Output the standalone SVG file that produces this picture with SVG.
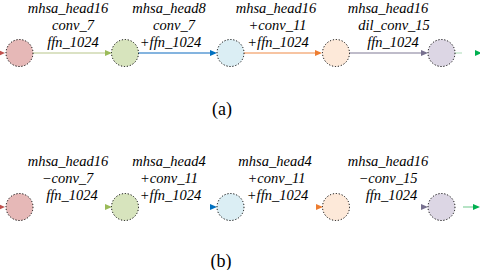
<svg xmlns="http://www.w3.org/2000/svg" width="480" height="270" viewBox="0 0 480 270">
<style>
.nd{stroke:#000000;stroke-width:1;stroke-dasharray:1.2 1.8}
.ln{fill:none;stroke-width:1.3}
</style>
<rect x="0" y="0" width="480" height="270" fill="#ffffff"/>
<g id="connectors">
  <polygon points="-2,50 5,53 -2,56" fill="#c0504d"/>
  <line class="ln" x1="33" y1="53" x2="106" y2="53" stroke="#cfd8b0"/>
  <polygon points="105,50 112,53 105,56" fill="#9bbb59"/>
  <line class="ln" x1="138" y1="53" x2="212" y2="53" stroke="#5b9bd5"/>
  <polygon points="210,50 217,53 210,56" fill="#0070c0"/>
  <line class="ln" x1="244" y1="53" x2="317" y2="53" stroke="#f4b183"/>
  <polygon points="315,50 322,53 315,56" fill="#ed7d31"/>
  <line class="ln" x1="349" y1="53" x2="423" y2="53" stroke="#aaa6b8"/>
  <polygon points="421,50 428,53 421,56" fill="#77708f"/>
  <line class="ln" x1="455" y1="53" x2="462" y2="53" stroke="#bfe3c8"/>
  <polygon points="475,50 482,53 475,56" fill="#00b050"/>
  <polygon points="-2,204 5,207 -2,210" fill="#c0504d"/>
  <polygon points="105,204 112,207 105,210" fill="#9bbb59"/>
  <polygon points="210,204 217,207 210,210" fill="#0070c0"/>
  <polygon points="316,204 323,207 316,210" fill="#ed7d31"/>
  <line class="ln" x1="421" y1="207" x2="424" y2="207" stroke="#aaa6b8"/>
  <polygon points="421,204 428,207 421,210" fill="#77708f"/>
  <line class="ln" x1="463" y1="207" x2="474" y2="207" stroke="#8fd4a6"/>
  <polygon points="473,204 480,207 473,210" fill="#00b050"/>
</g>
<g id="a-n1"><circle class="nd" cx="19.5" cy="53" r="13.5" fill="#e6b8b7"/></g>
<g id="a-n2"><circle class="nd" cx="125" cy="53" r="13.5" fill="#d7e4bd"/></g>
<g id="a-n3"><circle class="nd" cx="230.5" cy="53" r="13.5" fill="#dbeef4"/></g>
<g id="a-n4"><circle class="nd" cx="336" cy="53" r="13.5" fill="#fde9d9"/></g>
<g id="a-n5"><circle class="nd" cx="441.5" cy="53" r="13.5" fill="#dcd6e4"/></g>
<g id="b-n1"><circle class="nd" cx="19.5" cy="207" r="13.5" fill="#e6b8b7"/></g>
<g id="b-n2"><circle class="nd" cx="125" cy="207" r="13.5" fill="#d7e4bd"/></g>
<g id="b-n3"><circle class="nd" cx="230.5" cy="207" r="13.5" fill="#dbeef4"/></g>
<g id="b-n4"><circle class="nd" cx="336" cy="207" r="13.5" fill="#fde9d9"/></g>
<g id="b-n5"><circle class="nd" cx="441.5" cy="207" r="13.5" fill="#dcd6e4"/></g>
<g id="a-labels" font-family="Liberation Serif, Times New Roman, serif" font-style="italic" font-size="14.5" fill="#000000" text-anchor="middle">
  <text x="68" y="13">mhsa_head16</text>
  <text x="73" y="30">conv_7</text>
  <text x="73" y="47">ffn_1024</text>
  <text x="169" y="13">mhsa_head8</text>
  <text x="174" y="30">conv_7</text>
  <text x="170.5" y="47">+ffn_1024</text>
  <text x="276" y="13">mhsa_head16</text>
  <text x="277.5" y="30">+conv_11</text>
  <text x="278" y="47">+ffn_1024</text>
  <text x="388" y="13">mhsa_head16</text>
  <text x="394" y="30">dil_conv_15</text>
  <text x="393" y="47">ffn_1024</text>
</g>
<g id="b-labels" font-family="Liberation Serif, Times New Roman, serif" font-style="italic" font-size="14.5" fill="#000000" text-anchor="middle">
  <text x="68" y="166">mhsa_head16</text>
  <text x="67.5" y="183">−conv_7</text>
  <text x="72" y="200">ffn_1024</text>
  <text x="169" y="166">mhsa_head4</text>
  <text x="169" y="183">+conv_11</text>
  <text x="170.5" y="200">+ffn_1024</text>
  <text x="275" y="166">mhsa_head4</text>
  <text x="276.5" y="183">+conv_11</text>
  <text x="277.5" y="200">+ffn_1024</text>
  <text x="388" y="166">mhsa_head16</text>
  <text x="388" y="183">−conv_15</text>
  <text x="391.5" y="200">ffn_1024</text>
</g>
<g id="captions" font-family="Liberation Serif, Times New Roman, serif" font-size="18" fill="#000000" text-anchor="middle">
  <text x="222" y="115">(a)</text>
  <text x="221" y="267">(b)</text>
</g>
</svg>
